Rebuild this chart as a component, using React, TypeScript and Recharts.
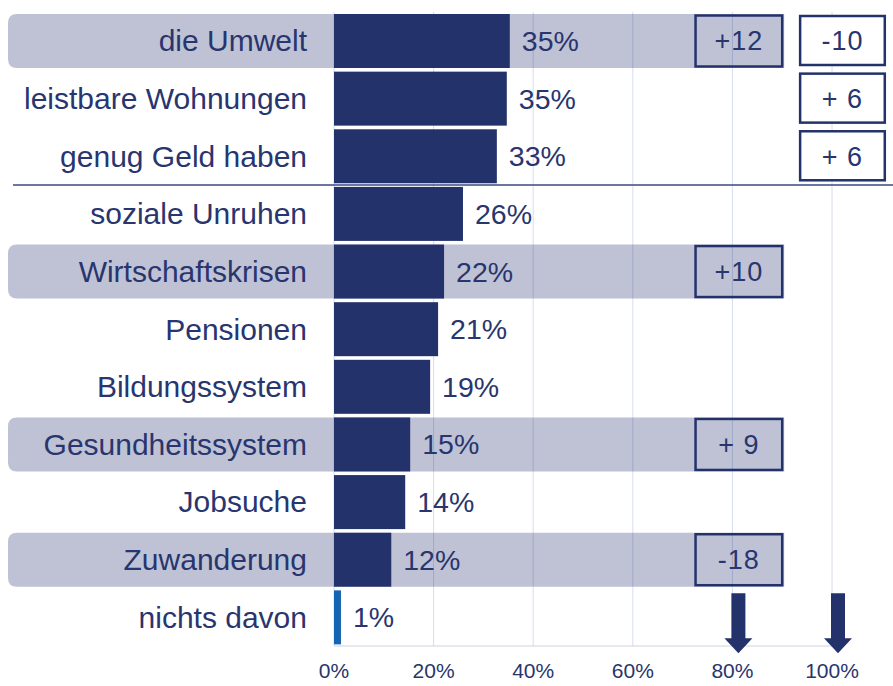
import { Bar, BarChart, CartesianGrid, Cell, LabelList, ReferenceDot, ReferenceLine, XAxis, YAxis } from "recharts"

const categories = [
  "die Umwelt",
  "leistbare Wohnungen",
  "genug Geld haben",
  "soziale Unruhen",
  "Wirtschaftskrisen",
  "Pensionen",
  "Bildungssystem",
  "Gesundheitssystem",
  "Jobsuche",
  "Zuwanderung",
  "nichts davon",
]
const shares = [35.3, 34.7, 32.7, 25.9, 22.1, 20.9, 19.3, 15.3, 14.3, 11.5, 1.4]
const shareLabels = ["35%", "35%", "33%", "26%", "22%", "21%", "19%", "15%", "14%", "12%", "1%"]
// change vs. previous wave (highlighted rows) and second comparison column
const changeA = ["+12", "", "", "", "+10", "", "", "+ 9", "", "-18", ""]
const changeB = ["-10", "+ 6", "+ 6", "", "", "", "", "", "", "", ""]
const xTicks = [0, 20, 40, 60, 80, 100]
const arrowMarks = [80, 100]

const NAVY = "#24326b"
const TEXT = "#28356e"
const FONT = "'Liberation Sans', Arial, sans-serif"

const data = categories.map((name, i) => ({
  name,
  share: shares[i],
  label: shareLabels[i],
}))

function RowShape(props: any) {
  const { x, y, width, height, index, fill, background } = props
  const left = background?.x ?? 334
  const span = background?.width ?? 498
  const px = (v: number) => left + (span * v) / 100
  const a = changeA[index]
  const b = changeB[index]
  const bandL = 8
  const bandR = px(90.4)
  const r = 9
  return (
    <g>
      {a && (
        <path
          d={`M${bandL + r},${y} H${bandR} V${y + height} H${bandL + r} Q${bandL},${y + height} ${bandL},${y + height - r} V${y + r} Q${bandL},${y} ${bandL + r},${y} Z`}
          fill="#1f2d6b"
          fillOpacity={0.29}
        />
      )}
      <rect fill={fill} height={height} width={width} x={x} y={y} />
      {a && (
        <g>
          <rect
            fill="none"
            height={height - 3}
            stroke={NAVY}
            strokeWidth={2.5}
            width={px(90) - px(72.6)}
            x={px(72.6)}
            y={y + 1.5}
          />
          <text
            dy="0.35em"
            fill={TEXT}
            fontFamily={FONT}
            fontSize={27}
            letterSpacing={1}
            textAnchor="middle"
            x={(px(72.6) + px(90)) / 2}
            y={y + height / 2}
          >
            {a}
          </text>
        </g>
      )}
      {b && (
        <g>
          <rect
            fill="#fff"
            height={height - 5}
            stroke={NAVY}
            strokeWidth={2.5}
            width={px(110.6) - px(93.6)}
            x={px(93.6)}
            y={y + 2}
          />
          <text
            dy="0.35em"
            fill={TEXT}
            fontFamily={FONT}
            fontSize={27}
            letterSpacing={1}
            textAnchor="middle"
            x={(px(93.6) + px(110.6)) / 2}
            y={y + height / 2}
          >
            {b}
          </text>
        </g>
      )}
    </g>
  )
}

function CategoryTick({ x, y, payload }: any) {
  return (
    <text dy="0.35em" fill={TEXT} fontFamily={FONT} fontSize={30} textAnchor="end" x={x} y={y}>
      {payload.value}
    </text>
  )
}

function ValueLabel({ x, y, width, height, index }: any) {
  return (
    <text
      dy="0.35em"
      fill={TEXT}
      fontFamily={FONT}
      fontSize={28.5}
      textAnchor="start"
      x={x + width + 12}
      y={y + height / 2}
    >
      {shareLabels[index]}
    </text>
  )
}

function Separator({ y1 }: any) {
  return <line stroke="#3a4a85" strokeWidth={1.5} x1={13} x2={893} y1={y1} y2={y1} />
}

function DownArrow({ cx, cy }: any) {
  const c = cx + 6
  const d = `M${c - 7},${cy - 24} H${c + 7} V${cy + 21} H${c + 14} L${c},${cy + 36} L${c - 14},${cy + 21} H${c - 7} Z`
  return <path d={d} fill={NAVY} />
}

export default function App() {
  return (
    <div style={{ position: "absolute", left: 0, top: 0, width: 893, height: 686, background: "#fff" }}>
      <BarChart
        barSize={54}
        data={data}
        height={686}
        layout="vertical"
        margin={{ top: 12, right: 61, bottom: 10, left: 0 }}
        width={893}
      >
        <CartesianGrid horizontal={false} stroke="#d6dcf2" />
        <XAxis
          axisLine={{ stroke: "#cfd3de" }}
          domain={[0, 100]}
          height={30}
          tick={{ fill: TEXT, fontFamily: FONT, fontSize: 21 }}
          tickFormatter={(v) => `${v}%`}
          tickLine={false}
          tickMargin={17}
          tickSize={0}
          ticks={xTicks}
          type="number"
        />
        <Bar dataKey="share" fill={NAVY} isAnimationActive={false} shape={RowShape}>
          {data.map((d, i) => (
            <Cell fill={d.name === "nichts davon" ? "#1565b4" : NAVY} key={i} />
          ))}
          <LabelList content={ValueLabel} dataKey="label" />
        </Bar>
        <ReferenceLine ifOverflow="visible" position="start" shape={Separator} y="soziale Unruhen" />
        {arrowMarks.map((m) => (
          <ReferenceDot ifOverflow="visible" key={m} shape={DownArrow} x={m} y="nichts davon" />
        ))}
        <YAxis
          axisLine={false}
          dataKey="name"
          tick={CategoryTick}
          tickLine={false}
          tickMargin={27}
          tickSize={0}
          type="category"
          width={334}
        />
      </BarChart>
    </div>
  )
}
